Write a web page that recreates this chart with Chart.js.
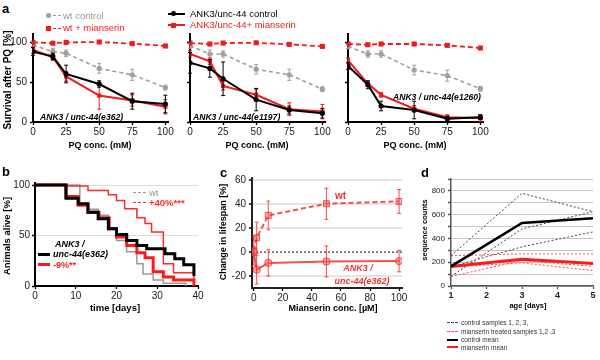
<!DOCTYPE html>
<html><head><meta charset="utf-8">
<script src="https://cdn.jsdelivr.net/npm/chart.js@4.4.0/dist/chart.umd.min.js"></script>
<style>
body{margin:0;width:600px;height:360px;background:#fff;position:relative;overflow:hidden;font-family:"Liberation Sans",Arial,sans-serif}
canvas{position:absolute}
.t{position:absolute;white-space:nowrap;line-height:1}
.ln{position:absolute;height:0}
.mk{position:absolute}
</style></head><body>
<script>
// ---------- DATA ----------
// panel a : survival after paraquat
const pqConc = [0, 15, 25, 50, 75, 100];
const pqTicks = [0, 25, 50, 75, 100];
const survTicks = [0, 50, 100];
// e362
const e362_wt = [96, 88, 86, 67, 59, 43];
const e362_wtErr = [3, 4, 4, 6, 7, 3];
const e362_wtMia = [99.5, 98.5, 99.5, 100, 98, 95];
const e362_wtMiaErr = [1.5, 1, 1, 1, 1, 1];
const e362_ank = [88, 82, 60, 47.5, 26, 22.5];
const e362_ankErr = [5, 4, 11, 4, 10, 11];
const e362_ankMia = [90, 81, 57, 33, 27, 19];
const e362_ankMiaErr = [4, 4, 6, 17, 7, 9];
// e1197
const e1197_wt = [95, 85, 85, 66, 59, 41];
const e1197_wtErr = [3, 5, 4, 6, 7, 3];
const e1197_wtMia = [98.7, 97.5, 98.7, 99, 97, 94.5];
const e1197_wtMiaErr = [1, 1, 1, 1, 1, 1];
const e1197_ank = [74, 67, 54, 28, 15, 11];
const e1197_ankErr = [13, 11, 21, 14, 5, 6];
const e1197_ankMia = [85, 76, 45, 34, 16, 13];
const e1197_ankMiaErr = [4, 4, 5, 7, 8, 9];
// e1260
const e1260_wt = [94.5, 85, 85, 65, 58, 41.6];
const e1260_wtErr = [3, 4, 4, 6, 7, 3];
const e1260_wtMia = [97.5, 96.6, 97.5, 97.5, 95.8, 92.5];
const e1260_wtMiaErr = [1, 1, 1, 1, 1, 1];
const e1260_ank = [70, 46.6, 20, 15, 4, 6];
const e1260_ankErr = [4, 5, 6, 11, 3, 3];
const e1260_ankMia = [77, 48, 34, 16.6, 6, 5];
const e1260_ankMiaErr = [3, 3, 3, 4, 3, 4];

// panel b : lifespan (Kaplan-Meier steps: day of drop, % alive after)
const dayTicks = [0, 10, 20, 30, 40];
const aliveTicks = [0, 50, 100];
const wtDays   = [0, 11, 13, 15.5, 18, 20, 22.5, 25, 26.5, 29, 31.5, 37];
const wtAlive  = [100, 82, 76, 70, 57, 45, 34, 22, 12, 6, 2.6, 0];
const wtMiaDays  = [0, 7.4, 13, 18, 20, 22, 25, 27, 28.6, 31.5, 34, 39];
const wtMiaAlive = [100, 99, 94.6, 90.3, 84.7, 76.5, 67.7, 61.8, 53.5, 22, 13, 0];
const ankDays  = [0, 7.6, 10.6, 13, 15.5, 18, 20, 22.5, 25, 27.4, 31.9, 34.3, 36.5, 39];
const ankAlive = [100, 87, 81.5, 73, 66.7, 56.8, 51, 45, 40, 37, 32, 27, 21, 10];
const ankMiaDays  = [0, 7.6, 10.6, 13, 15.7, 18.2, 20, 22.5, 25, 27, 29, 31.5, 34, 39];
const ankMiaAlive = [100, 88.7, 80, 73, 67.7, 56.8, 48.6, 40, 33, 28, 14, 9, 6, 0];

// panel c : change in lifespan vs mianserin
const miaConc = [0, 2, 10, 50, 100];
const miaTicks = [0, 20, 40, 60, 80, 100];
const changeTicks = [-20, 0, 20, 40, 60];
const wtChange = [1, 12, 30.7, 40.5, 42.4];
const wtChangeErr = [12, 13, 12, 13, 10];
const ankChange = [0, -14.7, -9, -7.8, -7.5];
const ankChangeErr = [3, 12, 11, 13, 9];

// panel d : sequence counts
const ageDays = [1, 3, 5];
const ageTicks = [1, 2, 3, 4, 5];
const ctrl1 = [255, 780, 625];
const ctrl2 = [80, 480, 625];
const ctrl3 = [160, 330, 455];
const mia1 = [255, 270, 270];
const mia2 = [80, 215, 165];
const mia3 = [160, 195, 130];
const ctrlMean = [165, 530, 570];
const miaMean = [165, 225, 190];

// ---------- STYLE ----------
const RED = '#ee1c1c', GRAY = '#a0a0a0';
const FONT = "'Liberation Sans', Arial, Helvetica, sans-serif";
Chart.defaults.font.family = FONT;
Chart.defaults.color = '#222';
Chart.defaults.plugins.legend.display = false;
Chart.defaults.plugins.tooltip.enabled = false;

const errPlugin = {
  id: 'err',
  afterDatasetDraw(chart, args) {
    const ds = chart.data.datasets[args.index];
    if (!ds.err) return;
    const ctx = chart.ctx, xs = chart.scales.x, ys = chart.scales.y;
    const cap = ds.errCap || 2;
    ctx.save();
    ctx.strokeStyle = ds.errColor || ds.borderColor;
    ctx.lineWidth = ds.errWidth || 1;
    ctx.setLineDash([]);
    ds.data.forEach((p, j) => {
      const e = ds.err[j]; if (!e) return;
      const x = xs.getPixelForValue(p.x);
      const y1 = ys.getPixelForValue(p.y - e), y2 = ys.getPixelForValue(p.y + e);
      ctx.beginPath();
      ctx.moveTo(x, y1); ctx.lineTo(x, y2);
      ctx.moveTo(x - cap, y1); ctx.lineTo(x + cap, y1);
      ctx.moveTo(x - cap, y2); ctx.lineTo(x + cap, y2);
      ctx.stroke();
    });
    ctx.restore();
  }
};

function place(L, T, R, B, padL, padB, cfg) {
  const P = 14;
  const left = Math.round(L) - padL, top = Math.round(T) - P;
  const w = Math.round(R) - Math.round(L) + padL + P;
  const h = Math.round(B) - Math.round(T) + P + padB;
  const c = document.createElement('canvas');
  c.width = w; c.height = h;
  c.style.left = left + 'px'; c.style.top = top + 'px';
  c.style.width = w + 'px'; c.style.height = h + 'px';
  document.body.appendChild(c);
  cfg.options.responsive = false;
  cfg.options.maintainAspectRatio = false;
  cfg.options.devicePixelRatio = 1;
  cfg.options.animation = false;
  cfg.options.layout = {padding: {top: P, right: P, left: 0, bottom: 0}};
  cfg.options.scales.x.afterFit = s => { s.height = padB; };
  cfg.options.scales.y.afterFit = s => { s.width = padL; };
  cfg.plugins = [errPlugin];
  return new Chart(c, cfg);
}
const pts = (xs, ys) => xs.map((x, i) => ({x, y: ys[i]}));
const fixTicks = arr => (s => { s.ticks = arr.map(v => ({value: v})); });

function axis(min, max, ticks, o) {
  o = o || {};
  return {
    type: 'linear', min, max,
    afterBuildTicks: fixTicks(ticks),
    ticks: Object.assign({font: {size: 10}, color: '#222', padding: 2, maxRotation: 0, autoSkip: false}, o.ticks || {}),
    grid: Object.assign({drawOnChartArea: false, drawTicks: true, tickLength: 3, tickColor: '#000', tickWidth: 1.3}, o.grid || {}),
    border: Object.assign({color: '#000', width: 2}, o.border || {})
  };
}

// ---------- PANEL a ----------
function pqChart(L, R, padL, showY, wt, wtE, wtM, wtME, ank, ankE, ankM, ankME) {
  place(L, 34.3, R, 122.3, padL, 22, {
    type: 'line',
    data: {datasets: [
      {data: pts(pqConc, ank), err: ankE, borderColor: '#000', backgroundColor: '#000', borderWidth: 2, pointStyle: 'circle', pointRadius: 2.6, pointBorderWidth: 0, tension: 0},
      {data: pts(pqConc, ankM), err: ankME, borderColor: RED, backgroundColor: RED, borderWidth: 2, pointStyle: 'rect', pointRadius: 3, pointBorderWidth: 0, tension: 0},
      {data: pts(pqConc, wtM), err: wtME, borderColor: RED, backgroundColor: RED, borderWidth: 1.8, borderDash: [5, 3], pointStyle: 'rect', pointRadius: 3.6, pointBorderWidth: 0, tension: 0},
      {data: pts(pqConc, wt), err: wtE, borderColor: GRAY, backgroundColor: GRAY, borderWidth: 1.6, borderDash: [4, 3], pointStyle: 'circle', pointRadius: 2.6, pointBorderWidth: 0, tension: 0}
    ]},
    options: {scales: {
      x: axis(0, 102, pqTicks, {ticks: {padding: 1}}),
      y: axis(0, 110, survTicks, {ticks: {display: showY, padding: 3}})
    }}
  });
}
pqChart(33, 168, 33, true, e362_wt, e362_wtErr, e362_wtMia, e362_wtMiaErr, e362_ank, e362_ankErr, e362_ankMia, e362_ankMiaErr);
pqChart(190, 325, 14, false, e1197_wt, e1197_wtErr, e1197_wtMia, e1197_wtMiaErr, e1197_ank, e1197_ankErr, e1197_ankMia, e1197_ankMiaErr);
pqChart(348, 483, 14, false, e1260_wt, e1260_wtErr, e1260_wtMia, e1260_wtMiaErr, e1260_ank, e1260_ankErr, e1260_ankMia, e1260_ankMiaErr);

// ---------- PANEL b ----------
place(35, 182.5, 198, 286, 35, 20, {
  type: 'line',
  data: {datasets: [
    {data: pts(ankDays, ankAlive), stepped: true, borderColor: '#000', borderWidth: 3, pointRadius: 0},
    {data: pts(ankMiaDays, ankMiaAlive), stepped: true, borderColor: '#ff1a1a', borderWidth: 3, pointRadius: 0},
    {data: pts(wtMiaDays, wtMiaAlive), stepped: true, borderColor: '#ff2a2a', borderWidth: 1.5, pointRadius: 0},
    {data: pts(wtDays, wtAlive), stepped: true, borderColor: '#999', borderWidth: 1.5, pointRadius: 0}
  ]},
  options: {scales: {
    x: axis(0, 40, dayTicks, {ticks: {padding: 1}}),
    y: axis(0, 102, aliveTicks, {grid: {drawOnChartArea: true, color: c => (c.tick && c.tick.value === 0) ? 'rgba(0,0,0,0)' : '#dcdcdc', lineWidth: 1}})
  }}
});

// ---------- PANEL c ----------
const RC = 'rgba(240,50,50,0.85)';
place(251.6, 177.5, 402, 287.6, 40, 20, {
  type: 'line',
  data: {datasets: [
    {data: pts(miaConc, ankChange), err: ankChangeErr, errCap: 2, borderColor: RC, backgroundColor: 'rgba(255,110,110,0.55)', borderWidth: 2, pointStyle: 'circle', pointRadius: 3.6, pointBorderWidth: 1, pointBorderColor: RC, tension: 0},
    {data: pts(miaConc, wtChange), err: wtChangeErr, errCap: 2, borderColor: RC, backgroundColor: 'rgba(255,110,110,0.55)', borderWidth: 2, borderDash: [5, 3], pointStyle: 'rect', pointRadius: 4.2, pointBorderWidth: 1, pointBorderColor: RC, tension: 0},
    {data: [{x: -1.2, y: 0}, {x: 102, y: 0}], borderColor: '#333', borderWidth: 1.2, borderDash: [2, 2], pointRadius: 0}
  ]},
  options: {scales: {
    x: axis(-1.2, 102, miaTicks, {ticks: {padding: 1}, border: {color: '#222'}}),
    y: axis(-30, 62, changeTicks, {ticks: {padding: 3}, border: {color: '#222'}, grid: {drawOnChartArea: true, color: c => (c.tick && c.tick.value === 0) ? 'rgba(0,0,0,0)' : '#e4e4e4', lineWidth: 2}})
  }}
});

// ---------- PANEL d ----------
const dTicks = [0, 100, 200, 300, 400, 500, 600, 700, 800, 900];
place(450.7, 179.1, 593.3, 286, 30, 20, {
  type: 'line',
  data: {datasets: [
    {data: pts(ageDays, ctrlMean), borderColor: '#000', borderWidth: 2.6, pointRadius: 0, tension: 0},
    {data: pts(ageDays, miaMean), borderColor: '#ff1a1a', borderWidth: 3, pointRadius: 0, tension: 0},
    {data: pts(ageDays, ctrl1), borderColor: '#444', borderWidth: 1, borderDash: [2, 2], pointRadius: 0, tension: 0},
    {data: pts(ageDays, ctrl2), borderColor: '#444', borderWidth: 1, borderDash: [2, 2], pointRadius: 0, tension: 0},
    {data: pts(ageDays, ctrl3), borderColor: '#444', borderWidth: 1, borderDash: [2, 2], pointRadius: 0, tension: 0},
    {data: pts(ageDays, mia1), borderColor: '#ff4a4a', borderWidth: 1, borderDash: [2, 2], pointRadius: 0, tension: 0},
    {data: pts(ageDays, mia2), borderColor: '#ff4a4a', borderWidth: 1, borderDash: [2, 2], pointRadius: 0, tension: 0},
    {data: pts(ageDays, mia3), borderColor: '#ff4a4a', borderWidth: 1, borderDash: [2, 2], pointRadius: 0, tension: 0}
  ]},
  options: {scales: {
    x: axis(1, 5, ageTicks, {ticks: {font: {size: 9, weight: 'bold'}, padding: 1}, border: {color: '#555', width: 1.5}, grid: {tickColor: '#555', tickLength: 3}}),
    y: axis(0, 900, dTicks, {ticks: {font: {size: 8}, padding: 3, callback: v => (v % 200 === 0 ? v : '')}, border: {color: '#555', width: 1.5}, grid: {drawOnChartArea: true, color: '#c4c4c4', lineWidth: 1, tickColor: '#555', tickLength: 3}})
  }}
});

// ---------- TEXT & LEGENDS ----------
function txt(s, x, y, css, anchor) {
  const d = document.createElement('div');
  d.className = 't'; d.textContent = s;
  d.style.cssText += css;
  d.style.left = x + 'px'; d.style.top = y + 'px';
  d.style.transform = anchor === 'c' ? 'translate(-50%,-50%)' : anchor === 'r' ? 'translate(-50%,-50%) rotate(-90deg)' : 'translate(0,-50%)';
  document.body.appendChild(d);
}
function hl(x1, x2, y, w, style) {
  const d = document.createElement('div');
  d.className = 'ln';
  d.style.left = x1 + 'px'; d.style.width = (x2 - x1) + 'px';
  d.style.top = (y - w / 2) + 'px';
  d.style.borderTop = w + 'px ' + style;
  document.body.appendChild(d);
}
function mk(x, y, s, color, round) {
  const d = document.createElement('div');
  d.className = 'mk';
  d.style.left = (x - s / 2) + 'px'; d.style.top = (y - s / 2) + 'px';
  d.style.width = s + 'px'; d.style.height = s + 'px';
  d.style.background = color; if (round) d.style.borderRadius = '50%';
  document.body.appendChild(d);
}
const B = 'font-weight:bold;';
const BI = 'font-weight:bold;font-style:italic;';
// panel letters
txt('a', 2, 8, B + 'font-size:13px;');
txt('b', 2, 171, B + 'font-size:13px;');
txt('c', 220, 172, B + 'font-size:13px;');
txt('d', 421, 172, B + 'font-size:13px;');
// panel a legend
hl(48, 61, 15.7, 1.6, 'dashed ' + GRAY); mk(48, 15.7, 5, GRAY, true);
txt('wt control', 63, 15.7, 'font-size:9.5px;color:#999;');
hl(48, 61, 28.3, 1.6, 'dashed ' + RED); mk(48, 28.3, 5, RED, false);
txt('wt + mianserin', 63, 28.3, 'font-size:9.5px;color:' + RED + ';');
hl(168, 185, 13.8, 2, 'solid #000'); mk(173, 13.8, 5, '#000', true);
txt('ANK3/unc-44 control', 190, 13.8, 'font-size:9.5px;color:#000;');
hl(168, 185, 25, 2, 'solid ' + RED); mk(173, 25, 5, RED, false);
txt('ANK3/unc-44+ mianserin', 190, 25, 'font-size:9.5px;color:' + RED + ';');
// panel a titles
txt('Survival after PQ [%]', 8, 80, B + 'font-size:10px;', 'r');
txt('PQ conc. (mM)', 100, 145, B + 'font-size:9px;', 'c');
txt('PQ conc. (mM)', 257, 145, B + 'font-size:9px;', 'c');
txt('PQ conc. (mM)', 415, 145, B + 'font-size:9px;', 'c');
txt('ANK3 / unc-44(e362)', 40, 116.7, BI + 'font-size:8.6px;');
txt('ANK3 / unc-44(e1197)', 193, 117.3, BI + 'font-size:8.6px;');
txt('ANK3 / unc-44(e1260)', 393, 97.3, BI + 'font-size:8.6px;');
// panel b
txt('Animals alive [%]', 7, 236, B + 'font-size:9.5px;', 'r');
txt('time [days]', 115, 308, B + 'font-size:9.5px;', 'c');
hl(133, 146, 192.7, 1.5, 'dashed #999');
txt('wt', 149, 192.7, 'font-size:9.5px;color:#999;');
hl(133, 146, 202.7, 1.5, 'dashed #ff2a2a');
txt('+40%***', 149, 202.7, B + 'font-size:9.5px;color:#ff2a2a;');
txt('ANK3 /', 55, 244, BI + 'font-size:9px;');
hl(38, 50, 254.3, 3, 'solid #000');
txt('unc-44(e362)', 53, 254.3, BI + 'font-size:9px;');
hl(38, 50, 264.5, 3, 'solid #ff1a1a');
txt('-9%**', 53, 264.5, B + 'font-size:9px;color:#ff1a1a;');
// panel c
txt('Change in lifespan [%]', 223, 232, B + 'font-size:9px;', 'r');
txt('Mianserin conc. [\u00b5M]', 333, 308, B + 'font-size:9px;', 'c');
txt('wt', 335, 195.7, B + 'font-size:10px;color:#f03232;');
txt('ANK3 /', 358, 267.7, BI + 'font-size:9px;color:#f03232;', 'c');
txt('unc-44(e362)', 362, 280.7, BI + 'font-size:9px;color:#f03232;', 'c');
// panel d
txt('sequence counts', 425, 230, B + 'font-size:7.5px;', 'r');
txt('age [days]', 528, 306, B + 'font-size:7.5px;', 'c');
hl(447, 458, 322.7, 1, 'dashed #444');
txt('control samples 1, 2, 3,', 461, 322.7, 'font-size:6.5px;color:#333;');
hl(447, 458, 331.7, 1, 'dashed #ff4a4a');
txt('mianserin treated samples 1,2 ,3', 461, 331.7, 'font-size:6.5px;color:#333;');
hl(447, 458, 339.5, 2, 'solid #000');
txt('control mean', 461, 339.5, 'font-size:6.5px;color:#333;');
hl(447, 458, 347.7, 2.5, 'solid #ff1a1a');
txt('mianserin mean', 461, 347.7, 'font-size:6.5px;color:#333;');
</script>
</body></html>
